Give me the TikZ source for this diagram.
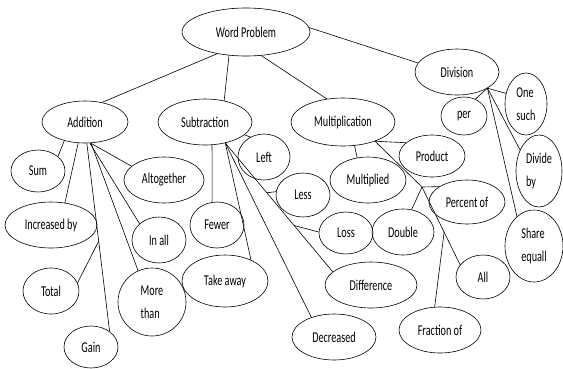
\documentclass[tikz,border=0pt]{standalone}
\usepackage{fontspec}
\setmainfont{Carlito}[FakeStretch=0.68]
\usetikzlibrary{shapes.geometric,calc}
\begin{document}
\begin{tikzpicture}[x=1pt,y=-1pt,
  bub/.style={draw=black, line width=0.6pt, ellipse, inner sep=0pt, align=left,
              font=\fontsize{15}{23}\selectfont},
  con/.style={draw=black, line width=0.6pt}]
\useasboundingbox (0,0) rectangle (563,368);
% main nodes
\node[bub, minimum width=128, minimum height=48] (wp) at (246,32) {Word Problem};
\node[bub, minimum width=86, minimum height=42] (add) at (85,122) {Addition};
\node[bub, minimum width=94, minimum height=46] (sub) at (205,122) {Subtraction};
\node[bub, minimum width=104, minimum height=48] (mul) at (343,122) {Multiplication};
\node[bub, minimum width=84, minimum height=46] (div) at (457,72) {Division};
% addition
\node[bub, minimum width=54, minimum height=42] (sum) at (38,171) {Sum};
\node[bub, minimum width=92, minimum height=46] (incr) at (51,225) {Increased by};
\node[bub, minimum width=56, minimum height=46] (total) at (51,291) {Total};
\node[bub, minimum width=54, minimum height=42] (gain) at (91,347) {Gain};
\node[bub, minimum width=80, minimum height=46] (alt) at (164,180) {Altogether};
\node[bub, minimum width=54, minimum height=46] (inall) at (159,240) {In all};
\node[bub, minimum width=68, minimum height=68] (more) at (152,302) {More\\than};
% subtraction
\node[bub, minimum width=54, minimum height=46] (fewer) at (217,225) {Fewer};
\node[bub, minimum width=86, minimum height=52] (take) at (225,281) {Take away};
\node[bub, minimum width=52, minimum height=46] (left) at (264,157) {Left};
\node[bub, minimum width=54, minimum height=44] (less) at (303,195) {Less};
\node[bub, minimum width=54, minimum height=42] (loss) at (346,233) {Loss};
\node[bub, minimum width=92, minimum height=46] (diff) at (371,285) {Difference};
\node[bub, minimum width=84, minimum height=46] (decr) at (334,337) {Decreased};
% multiplication
\node[bub, minimum width=76, minimum height=46] (mult) at (368,180) {Multiplied};
\node[bub, minimum width=66, minimum height=42] (prod) at (432,156) {Product};
\node[bub, minimum width=76, minimum height=44] (perc) at (467,202) {Percent of};
\node[bub, minimum width=62, minimum height=46] (dbl) at (403,232) {Double};
\node[bub, minimum width=54, minimum height=44] (all) at (483,277) {All};
\node[bub, minimum width=82, minimum height=46] (frac) at (440,330) {Fraction of};
% division
\node[bub, minimum width=46, minimum height=38] (per) at (464,116) {per};
\node[bub, minimum width=42, minimum height=62] (one) at (526,104) {One\\such};
\node[bub, minimum width=46, minimum height=72] (divby) at (539,171) {Divide\\by};
\node[bub, minimum width=58, minimum height=72] (share) at (534,246) {Share\\equall};
% connectors: top level
\draw[con] (wp.217) -- (add.49);
\draw[con] (wp.234) -- (sub.48);
\draw[con] (wp.303) -- (mul.125);
\draw[con] (wp.4) -- (div.167);
% addition
\draw[con] (add.222) -- (sum.36);
\draw[con] (add.252) -- (incr.58);
\draw[con] (add.275) -- (gain.40);
\coordinate (tb) at ($(add.275)!0.52!(gain.40)$);
\draw[con] (tb) -- (total.17);
\draw[con] (add.286) -- (more.114);
\draw[con] (add.283) -- (inall.140);
\draw[con] (add.285) -- (alt.157);
% subtraction
\draw[con] (sub.342) -- (left.124);
\draw[con] (sub.287) -- (fewer.102);
\draw[con] (sub.314) -- (take.39);
\draw[con] (sub.314) -- (decr.139);
\draw[con] (sub.314) -- (diff.161);
\coordinate (lessb) at ($(sub.314)!0.386!(diff.161)$);
\coordinate (lossb) at ($(sub.314)!0.64!(diff.161)$);
\draw[con] (lessb) -- (less.173);
\draw[con] (lossb) -- (loss.178);
% multiplication
\draw[con] (mul.329) -- (prod.153);
\draw[con] (mul.296) -- (mult.116);
\coordinate (pj) at (422,187);
\draw[con] (mul.329) -- (pj);
\draw[con] (pj) -- (perc.151);
\draw[con] (pj) -- (dbl.69);
\draw[con] (pj) -- (all.152);
\coordinate (qj) at ($(pj)!0.58!(all.152)$);
\draw[con] (qj) -- (frac.103);
% division
\draw[con] (div.332) -- (per.56);
\draw[con] (div.332) -- (one.152);
\draw[con] (div.332) -- (divby.132);
\draw[con] (div.332) -- (share.120);
\end{tikzpicture}
\end{document}
